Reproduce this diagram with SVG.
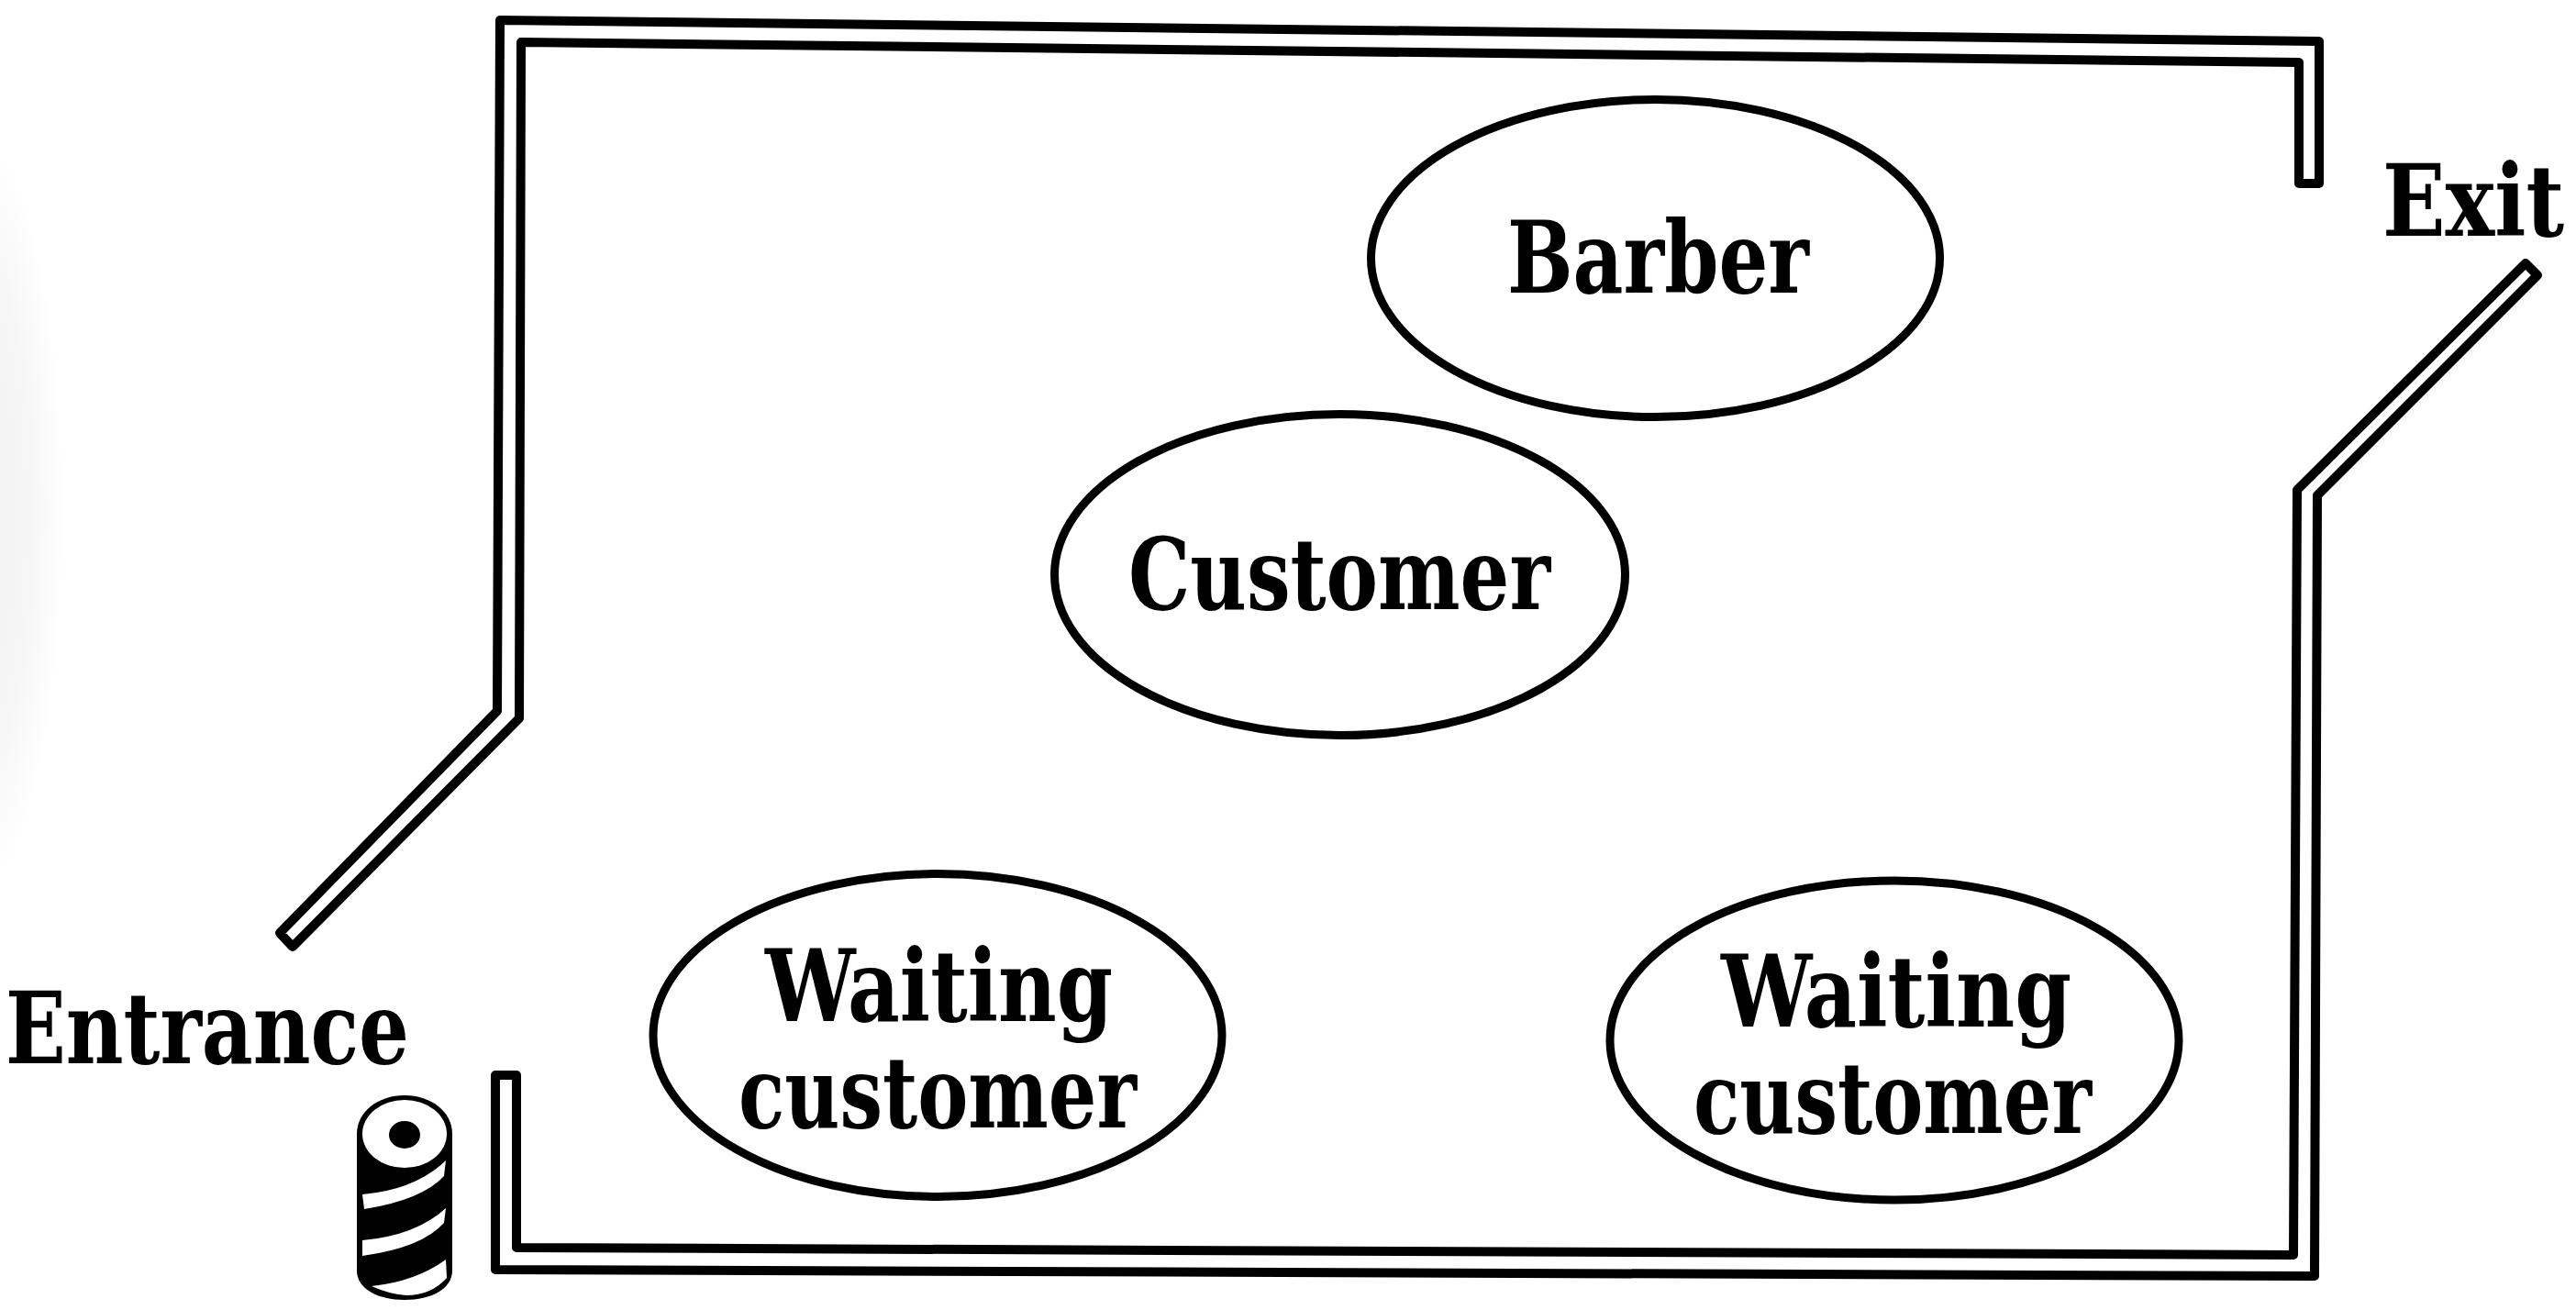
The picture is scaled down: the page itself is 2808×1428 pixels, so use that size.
<svg xmlns="http://www.w3.org/2000/svg" width="2808" height="1428" viewBox="0 0 2808 1428">
  <defs>
    <radialGradient id="shade">
      <stop offset="0" stop-color="#f0f0f0"/>
      <stop offset="0.65" stop-color="#f6f6f6"/>
      <stop offset="1" stop-color="#ffffff"/>
    </radialGradient>
  </defs>
  <style>
    .wall { fill: none; stroke: #000; stroke-width: 10; stroke-linejoin: round; }
    .oval { fill: #fff; stroke: #000; stroke-width: 9; }
    text { font-family: "DejaVu Serif Condensed", "DejaVu Serif", serif; font-weight: 700; font-size: 108px; fill: #000; }
  </style>
  <rect width="2808" height="1428" fill="#fff"/>
  <ellipse cx="-30" cy="560" rx="100" ry="420" fill="url(#shade)"/>
  <g id="walls">
    <path class="wall" d="M545 22 L2528 45 L2528 200 L2506 200 L2506 68 L568 46 L566 783 L319 1032 L305 1017 L542 775 Z"/>
    <path class="wall" d="M540 1172 L540 1384 L2523 1391 L2526 540 L2766 300 L2753 287 L2504 534 L2500 1368 L563 1360 L563 1172 Z"/>
  </g>
  <g id="barber">
    <ellipse class="oval" cx="1804.5" cy="281.5" rx="310" ry="173"/>
    <text x="1643" y="319" textLength="329" lengthAdjust="spacingAndGlyphs">Barber</text>
  </g>
  <g id="customer">
    <ellipse class="oval" cx="1460.5" cy="626.5" rx="311" ry="175"/>
    <text x="1230" y="664" textLength="460" lengthAdjust="spacingAndGlyphs">Customer</text>
  </g>
  <g id="waiting-customer-1">
    <ellipse class="oval" cx="1022" cy="1128.5" rx="310" ry="176"/>
    <text x="834" y="1113" textLength="379" lengthAdjust="spacingAndGlyphs">Waiting</text>
    <text x="805" y="1229" textLength="434" lengthAdjust="spacingAndGlyphs">customer</text>
  </g>
  <g id="waiting-customer-2">
    <ellipse class="oval" cx="2065" cy="1134" rx="310" ry="174"/>
    <text x="1876" y="1119" textLength="382" lengthAdjust="spacingAndGlyphs">Waiting</text>
    <text x="1846" y="1235" textLength="434" lengthAdjust="spacingAndGlyphs">customer</text>
  </g>
  <g id="exit-label">
    <text x="2597" y="257" textLength="198" lengthAdjust="spacingAndGlyphs">Exit</text>
  </g>
  <g id="entrance-label">
    <text x="6" y="1159" textLength="440" lengthAdjust="spacingAndGlyphs">Entrance</text>
  </g>
  <g id="barber-pole">
    <path fill="#000" d="M389 1236 C389 1212 412 1194 441 1194 C470 1194 493 1212 493 1236 L493 1385 C493 1405 470 1417 441 1417 C412 1417 389 1405 389 1385 Z"/>
    <ellipse cx="441" cy="1236" rx="46" ry="37" fill="#fff"/>
    <ellipse cx="441" cy="1237" rx="17" ry="15" fill="#000"/>
    <path fill="#fff" d="M395 1302 Q453 1297 486 1265 L484 1282 Q460 1308 397 1318 Z"/>
    <path fill="#fff" d="M395 1352 Q453 1347 486 1317 L484 1333 Q460 1360 395 1369 Z"/>
    <path fill="#fff" d="M405 1402 Q453 1397 486 1373 L487 1393 Q470 1412 443 1412 Q425 1411 405 1402 Z"/>
  </g>
</svg>
